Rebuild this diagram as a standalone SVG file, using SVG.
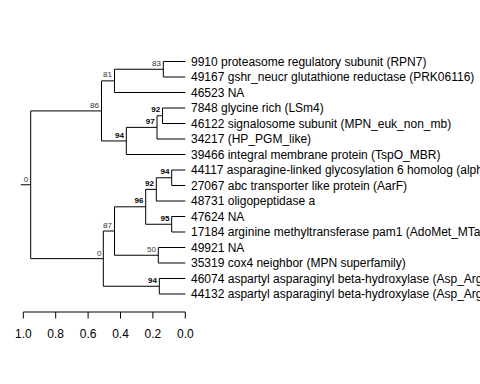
<svg xmlns="http://www.w3.org/2000/svg" width="480" height="384" viewBox="0 0 480 384">
<style>
.leaf{font-family:"Liberation Sans",Arial,sans-serif;font-size:12px;fill:#000}
.sup{font-family:"Liberation Sans",Arial,sans-serif;font-size:8px;fill:#333;text-anchor:end}
.supb{font-family:"Liberation Sans",Arial,sans-serif;font-size:8px;fill:#000;font-weight:bold;text-anchor:end}
.ax{font-family:"Liberation Sans",Arial,sans-serif;font-size:12px;fill:#000;text-anchor:middle}
.br{fill:none;stroke:#000;stroke-width:1}
</style>
<rect width="480" height="384" fill="#fff"/>
<g id="connectors" class="br">
<path d="M20.7 184.78H30.7M30.7 110.91V258.64M30.7 110.91H101.5M30.7 258.64H103.3"/>
<path d="M101.5 80.875V140.94M101.5 80.875H114.5M101.5 140.94H126.3"/>
<path d="M114.5 69.25V92.5M114.5 69.25H163.3M114.5 92.5H185.3"/>
<path d="M163.3 61.5V77M163.3 61.5H185.3M163.3 77H185.3"/>
<path d="M126.3 127.375V154.5M126.3 127.375H157M126.3 154.5H185.3"/>
<path d="M157 115.75V139M157 115.75H162.5M157 139H185.3"/>
<path d="M162.5 108V123.5M162.5 108H185.3M162.5 123.5H185.3"/>
<path d="M103.3 231.03V286.25M103.3 231.03H114.5M103.3 286.25H159.3"/>
<path d="M114.5 206.81V255.25M114.5 206.81H145.7M114.5 255.25H158.3"/>
<path d="M145.7 189.375V224.25M145.7 189.375H156.3M145.7 224.25H171.7"/>
<path d="M156.3 177.75V201M156.3 177.75H171.7M156.3 201H185.3"/>
<path d="M171.7 170V185.5M171.7 170H185.3M171.7 185.5H185.3"/>
<path d="M171.7 216.5V232M171.7 216.5H185.3M171.7 232H185.3"/>
<path d="M158.3 247.5V263M158.3 247.5H185.3M158.3 263H185.3"/>
<path d="M159.3 278.5V294M159.3 278.5H185.3M159.3 294H185.3"/>
</g>
<g id="leaf-9910"><text class="leaf" x="191" y="65.8">9910 proteasome regulatory subunit (RPN7)</text></g>
<g id="leaf-49167"><text class="leaf" x="191" y="81.3">49167 gshr_neucr glutathione reductase (PRK06116)</text></g>
<g id="leaf-46523"><text class="leaf" x="191" y="96.8">46523 NA</text></g>
<g id="leaf-7848"><text class="leaf" x="191" y="112.3">7848 glycine rich (LSm4)</text></g>
<g id="leaf-46122"><text class="leaf" x="191" y="127.8">46122 signalosome subunit (MPN_euk_non_mb)</text></g>
<g id="leaf-34217"><text class="leaf" x="191" y="143.3">34217 (HP_PGM_like)</text></g>
<g id="leaf-39466"><text class="leaf" x="191" y="158.8">39466 integral membrane protein (TspO_MBR)</text></g>
<g id="leaf-44117"><text class="leaf" x="191" y="174.3">44117 asparagine-linked glycosylation 6 homolog (alph</text></g>
<g id="leaf-27067"><text class="leaf" x="191" y="189.8">27067 abc transporter like protein (AarF)</text></g>
<g id="leaf-48731"><text class="leaf" x="191" y="205.3">48731 oligopeptidase a</text></g>
<g id="leaf-47624"><text class="leaf" x="191" y="220.8">47624 NA</text></g>
<g id="leaf-17184"><text class="leaf" x="191" y="236.3">17184 arginine methyltransferase pam1 (AdoMet_MTa</text></g>
<g id="leaf-49921"><text class="leaf" x="191" y="251.8">49921 NA</text></g>
<g id="leaf-35319"><text class="leaf" x="191" y="267.3">35319 cox4 neighbor (MPN superfamily)</text></g>
<g id="leaf-46074"><text class="leaf" x="191" y="282.8">46074 aspartyl asparaginyl beta-hydroxylase (Asp_Arg</text></g>
<g id="leaf-44132"><text class="leaf" x="191" y="298.3">44132 aspartyl asparaginyl beta-hydroxylase (Asp_Arg</text></g>
<g id="node-root"><text class="sup" x="28.3" y="182">0</text></g>
<g id="node-86"><text class="sup" x="99" y="107.5">86</text></g>
<g id="node-81"><text class="sup" x="112" y="77.4">81</text></g>
<g id="node-83"><text class="sup" x="161" y="65.8">83</text></g>
<g id="node-94a"><text class="supb" x="124" y="137.5">94</text></g>
<g id="node-97"><text class="supb" x="154.7" y="124">97</text></g>
<g id="node-92a"><text class="supb" x="160.2" y="112.3">92</text></g>
<g id="node-0"><text class="sup" x="101.5" y="255.8">0</text></g>
<g id="node-87"><text class="sup" x="112" y="227.6">87</text></g>
<g id="node-96"><text class="supb" x="143.4" y="203.4">96</text></g>
<g id="node-92b"><text class="supb" x="154" y="186">92</text></g>
<g id="node-94b"><text class="supb" x="169.4" y="174.3">94</text></g>
<g id="node-95"><text class="supb" x="169.4" y="220.8">95</text></g>
<g id="node-50"><text class="sup" x="156" y="251.8">50</text></g>
<g id="node-94c"><text class="supb" x="157" y="282.8">94</text></g>
<g id="axis">
<path class="br" d="M23.3 312H185.3M23.3 312V318.5M55.7 312V318.5M88.1 312V318.5M120.5 312V318.5M152.9 312V318.5M185.3 312V318.5"/>
<text class="ax" x="23.3" y="337.5">1.0</text>
<text class="ax" x="55.7" y="337.5">0.8</text>
<text class="ax" x="88.1" y="337.5">0.6</text>
<text class="ax" x="120.5" y="337.5">0.4</text>
<text class="ax" x="152.9" y="337.5">0.2</text>
<text class="ax" x="185.3" y="337.5">0.0</text>
</g>
</svg>
